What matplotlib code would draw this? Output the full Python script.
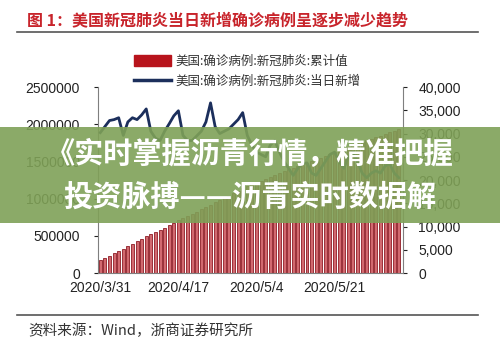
import matplotlib
matplotlib.use("Agg")
import matplotlib.pyplot as plt
from matplotlib.patches import Rectangle
from matplotlib.ticker import FuncFormatter

# US cumulative confirmed cases, 2020/3/31 .. 2020/6/4
cumulative = [175000, 205000, 235000, 267000, 300000, 330000, 362000, 395000,
              428000, 460000, 492000, 523000, 553000, 582000, 612000, 643000,
              676000, 710000, 740000, 768000, 796000, 825000, 855000, 886000,
              920000, 952000, 982000, 1012000, 1042000, 1073000, 1105000, 1138000,
              1166000, 1192000, 1217000, 1242000, 1267000, 1294000, 1322000, 1347000,
              1370000, 1392000, 1413000, 1435000, 1458000, 1481000, 1503000, 1524000,
              1546000, 1570000, 1595000, 1621000, 1645000, 1667000, 1692000, 1718000,
              1742000, 1763000, 1784000, 1805000, 1827000, 1848000, 1871000, 1894000,
              1915000, 1936000]
# daily new cases
daily = [30200, 31500, 32800, 33000, 33400, 29600, 32500, 33400, 33000, 34000,
         35300, 30500, 29000, 28500, 30500, 32100, 33800, 34900, 29600, 28500,
         28500, 29500, 30500, 32500, 36600, 31500, 30000, 30500, 31000, 32000,
         33000, 34500, 29600, 27500, 26000, 25500, 25000, 27500, 28500, 26000,
         24000, 22500, 21000, 22500, 23500, 23700, 21500, 21000, 22500, 24000,
         25500, 26000, 24000, 22500, 25000, 26000, 24000, 21500, 20500, 21500,
         22000, 21500, 23000, 23500, 21500, 20500]
tick_pos = [0, 17, 34, 51]
tick_labels = ["2020/3/31", "2020/4/17", "2020/5/4", "2020/5/21"]

title = "图 1：美国新冠肺炎当日新增确诊病例呈逐步减少趋势"
label_bar = "美国:确诊病例:新冠肺炎:累计值"
label_line = "美国:确诊病例:新冠肺炎:当日新增"
source = "资料来源：Wind，浙商证券研究所"
banner1 = "《实时掌握沥青行情，精准把握"
banner2 = "投资脉搏——沥青实时数据解"

plt.rcParams['font.family'] = ['Liberation Sans', 'Noto Sans CJK SC', 'DejaVu Sans']
cjk = ['Noto Sans CJK SC', 'DejaVu Sans']

fig = plt.figure(figsize=(5, 3.51), dpi=100)
ax = fig.add_axes([0.196, 0.222, 0.61, 0.530])
ax2 = ax.twinx()

x = list(range(len(cumulative)))
ax.bar(x, cumulative, width=0.65, color='#d26a70', edgecolor='#8e1c25', linewidth=0.6, zorder=1)
ax2.plot(x, daily, color='#1c2f5c', linewidth=2, zorder=3)

ax.set_xlim(-0.5, 65.9)
ax.set_ylim(0, 2500000)
ax2.set_ylim(0, 40000)
ax.set_yticks(range(0, 2500001, 500000))
ax2.set_yticks(range(0, 40001, 5000))
ax.yaxis.set_major_formatter(FuncFormatter(lambda v, p: f"{int(v)}"))
ax2.yaxis.set_major_formatter(FuncFormatter(lambda v, p: f"{int(v):,}"))
ax.set_xticks(tick_pos)
ax.set_xticklabels(tick_labels)

for a in (ax, ax2):
    a.spines['top'].set_visible(False)
    for s in ('left', 'right', 'bottom'):
        a.spines[s].set_color('#7f7f7f')
    a.tick_params(labelsize=10, colors='#222222', length=3, width=0.8)
ax.spines['right'].set_visible(False)
ax2.spines['left'].set_visible(False)
ax2.spines['bottom'].set_visible(False)
ax.tick_params(axis='x', length=0, pad=6)
ax.tick_params(axis='y', pad=10)
ax2.tick_params(axis='y', pad=8)

# title and rules
fig.text(0.054, 0.943, title, color='#c8242b', fontsize=11.5, fontweight='bold',
         family=cjk, va='center', ha='left')
fig.add_artist(plt.Line2D([0.034, 0.956], [0.909, 0.909], color='#555555', lw=1.2))
fig.add_artist(plt.Line2D([0.034, 0.956], [0.103, 0.103], color='#555555', lw=1.2))
fig.text(0.056, 0.057, source, color='#333333', fontsize=10.5, family=cjk,
         va='center', ha='left')

# legend
h1 = Rectangle((0, 0), 1, 1, color='#b8141c')
h2 = plt.Line2D([], [], color='#1c2f5c', lw=2.5)
fig.legend([h1, h2], [label_bar, label_line], loc='center left',
           bbox_to_anchor=(0.255, 0.797), frameon=False, borderpad=0,
           handlelength=3, handleheight=0.9, handletextpad=0.3, labelspacing=0.55,
           prop={'family': cjk, 'size': 9}, labelcolor='#333333')

# overlay banner
fig.add_artist(Rectangle((0, 0.365), 1, 0.273, transform=fig.transFigure,
                         facecolor='#7fa157', alpha=0.9, edgecolor='none', zorder=5))
fig.text(0.5, 0.56, banner1, color='white', fontsize=21, fontweight='bold',
         family=cjk, ha='center', va='center', zorder=6)
fig.text(0.5, 0.44, banner2, color='white', fontsize=21, fontweight='bold',
         family=cjk, ha='center', va='center', zorder=6)

fig.savefig("out.png", dpi=100)
